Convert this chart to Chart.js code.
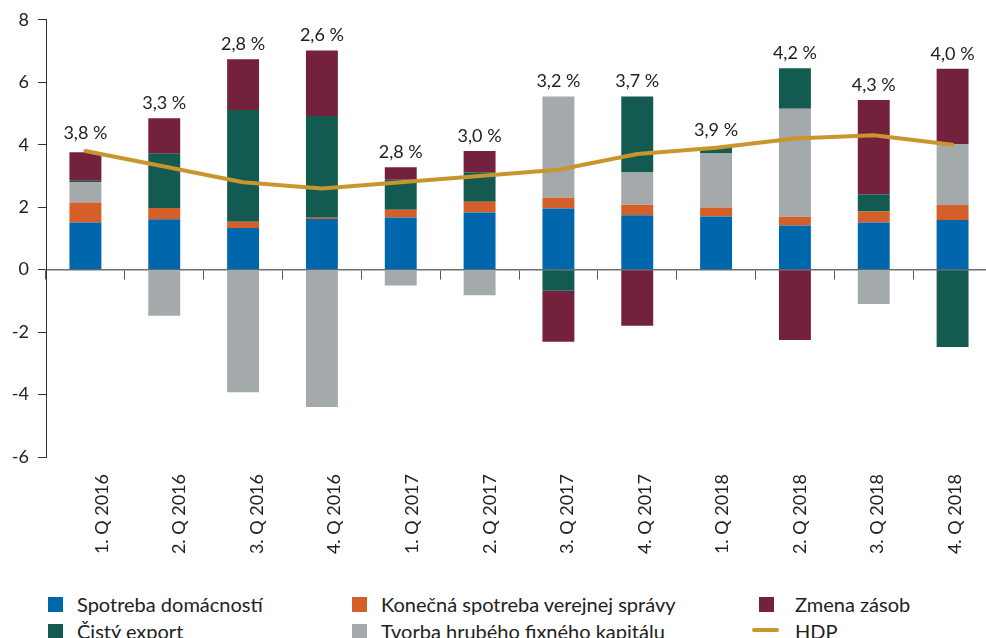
<!DOCTYPE html>
<html lang="sk">
<head>
    <meta charset="UTF-8">
    <title>Príspevky k rastu HDP</title>
    <style>
        * { margin: 0; padding: 0; box-sizing: border-box; }
        body {
            width: 986px;
            height: 638px;
            overflow: hidden;
            background: #fff;
            font-family: 'Lato', sans-serif;
            color: #222;
        }
        .wrap { position: relative; width: 1010px; height: 638px; }
        .chart-box { position: absolute; left: 0; top: 0; width: 1010px; height: 585px; }
        .legend-item {
            position: absolute;
            font-size: 20px;
            line-height: 20px;
            white-space: nowrap;
        }
        .swatch { position: absolute; width: 15px; height: 15px; }
        .swatch.line { height: 4px; width: 27px; border-radius: 2px; }
    </style>
    <script src="https://cdn.jsdelivr.net/npm/chart.js"></script>
</head>
<body>
<div class="wrap">
    <div class="chart-box"><canvas id="gdpChart"></canvas></div>

    <!-- legend -->
    <span class="swatch" style="left:48px;top:597px;background:#0067AC"></span>
    <div class="legend-item" style="left:77px;top:594px">Spotreba domácností</div>
    <span class="swatch" style="left:352px;top:597px;background:#D55F28"></span>
    <div class="legend-item" style="left:381px;top:594px">Konečná spotreba verejnej správy</div>
    <span class="swatch" style="left:759px;top:597px;background:#74213E"></span>
    <div class="legend-item" style="left:795px;top:594px">Zmena zásob</div>

    <span class="swatch" style="left:48px;top:624px;background:#135B50"></span>
    <div class="legend-item" style="left:77px;top:621px">Čistý export</div>
    <span class="swatch" style="left:352px;top:624px;background:#A4A9AC"></span>
    <div class="legend-item" style="left:381px;top:621px">Tvorba hrubého fixného kapitálu</div>
    <span class="swatch line" style="left:752px;top:628px;background:#C9962E"></span>
    <div class="legend-item" style="left:795px;top:621px">HDP</div>
</div>

<script>
    // Data (p.b.)
    const quarters = ['1. Q 2016', '2. Q 2016', '3. Q 2016', '4. Q 2016',
                      '1. Q 2017', '2. Q 2017', '3. Q 2017', '4. Q 2017',
                      '1. Q 2018', '2. Q 2018', '3. Q 2018', '4. Q 2018'];
    const household    = [1.51, 1.61, 1.33, 1.62, 1.67, 1.83, 1.96, 1.74, 1.70, 1.41, 1.51, 1.59];
    const government   = [0.64, 0.36, 0.20, 0.04, 0.25, 0.34, 0.34, 0.34, 0.29, 0.28, 0.35, 0.48];
    const fixedCapital = [0.66, -1.48, -3.93, -4.40, -0.51, -0.82, 3.24, 1.03, 1.73, 3.46, -1.10, 1.95];
    const netExport    = [0.04, 1.74, 3.58, 3.26, 0.96, 0.95, -0.68, 2.43, 0.19, 1.30, 0.55, -2.48];
    const inventories  = [0.91, 1.14, 1.63, 2.10, 0.40, 0.68, -1.63, -1.80, 0, -2.25, 3.02, 2.41];
    const gdp          = [3.8, 3.3, 2.8, 2.6, 2.8, 3.0, 3.2, 3.7, 3.9, 4.2, 4.3, 4.0];
    const yTicks       = [-6, -4, -2, 0, 2, 4, 6, 8];

    const barSeries = [household, government, fixedCapital, netExport, inventories];
    const FONT = { family: 'Lato', size: 18 };

    const fmt = v => v.toFixed(1).replace('.', ',') + ' %';

    // GDP value above each column
    const gdpLabels = {
        id: 'gdpLabels',
        afterDatasetsDraw(chart) {
            const { ctx, scales: { x, y } } = chart;
            ctx.save();
            ctx.font = '18px Lato';
            ctx.fillStyle = '#222';
            ctx.textAlign = 'center';
            ctx.textBaseline = 'middle';
            gdp.forEach((v, i) => {
                const posSum = barSeries.reduce((s, arr) => s + Math.max(arr[i], 0), 0);
                const top = Math.min(y.getPixelForValue(posSum), y.getPixelForValue(v) - 3);
                ctx.fillText(fmt(v), x.getPixelForValue(i), top - 15);
            });
            ctx.restore();
        }
    };

    const bar = (label, data, color) => ({
        type: 'bar', label, data, backgroundColor: color,
        borderWidth: 0, order: 1, stack: 'parts'
    });

    new Chart(document.getElementById('gdpChart'), {
        data: {
            labels: quarters,
            datasets: [
                {
                    type: 'line', label: 'HDP', data: gdp, order: 0, stack: 'hdp',
                    borderColor: '#C9962E', borderWidth: 4, pointRadius: 0,
                    tension: 0, borderCapStyle: 'round', borderJoinStyle: 'round'
                },
                bar('Spotreba domácností', household, '#0067AC'),
                bar('Konečná spotreba verejnej správy', government, '#D55F28'),
                bar('Tvorba hrubého fixného kapitálu', fixedCapital, '#A4A9AC'),
                bar('Čistý export', netExport, '#135B50'),
                bar('Zmena zásob', inventories, '#74213E')
            ]
        },
        options: {
            responsive: true,
            maintainAspectRatio: false,
            animation: false,
            layout: { padding: { top: 19, right: 18, left: 0, bottom: 0 } },
            datasets: { bar: { barPercentage: 0.405, categoryPercentage: 1 } },
            plugins: { legend: { display: false }, tooltip: { enabled: false } },
            scales: {
                x: {
                    type: 'category',
                    stacked: true,
                    position: { y: 0 },
                    offset: true,
                    grid: { offset: true, drawOnChartArea: false, tickLength: 9, color: '#555', lineWidth: 1 },
                    border: { display: true, color: '#6f6f6f', width: 1.5 },
                    ticks: { display: false }
                },
                // separate axis just for the rotated quarter labels at the bottom
                x2: {
                    type: 'linear',
                    position: 'bottom',
                    min: -0.722,
                    max: 11.477,
                    grid: { display: false, drawTicks: false },
                    border: { display: false },
                    afterBuildTicks: s => { s.ticks = quarters.map((q, i) => ({ value: i })); },
                    afterFit: s => { s.height = 128; },
                    ticks: {
                        autoSkip: false,
                        minRotation: 90,
                        maxRotation: 90,
                        padding: 17,
                        color: '#222',
                        font: FONT,
                        callback: v => quarters[v]
                    }
                },
                y: {
                    stacked: true,
                    min: -6,
                    max: 8,
                    afterBuildTicks: s => { s.ticks = yTicks.map(v => ({ value: v })); },
                    afterFit: s => { s.width = 46; },
                    grid: { drawOnChartArea: false, tickLength: 8, color: '#333', lineWidth: 1 },
                    border: { display: true, color: '#333', width: 1 },
                    ticks: { color: '#222', font: FONT, padding: 9 }
                }
            }
        },
        plugins: [gdpLabels]
    });
</script>
</body>
</html>
